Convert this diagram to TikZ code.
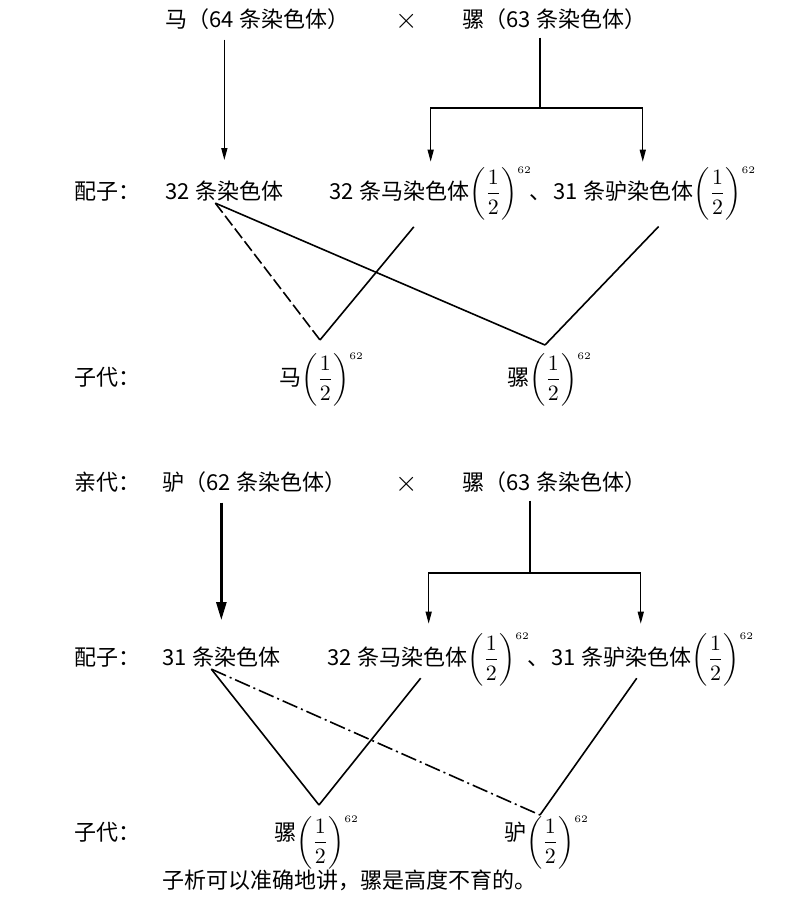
\documentclass[tikz,border=0pt]{standalone}
\usepackage{fontspec}
\usepackage{amsmath}
\setmainfont{Noto Sans CJK SC}
\usetikzlibrary{arrows.meta}

\newcommand{\half}{\left(\dfrac{1}{2}\right)^{\scriptscriptstyle 62}}
\newcommand{\nsp}{\hspace{0.25em}}

\begin{document}
\begin{tikzpicture}[x=0.5pt,y=-0.5pt,
    txt/.style={anchor=base west,inner sep=1pt,font=\fontsize{11}{13}\selectfont},
    cross/.style={anchor=base west,inner sep=1pt,font=\fontsize{15}{15}\selectfont},
    arr/.style={-{Triangle[length=6pt,width=3pt]},line width=0.7pt},
    ln/.style={line width=0.8pt}]

    \useasboundingbox (0,0) rectangle (800,900);

    % upper cross
    \node[txt] (p1) at (163,27) {马（64\nsp 条染色体）};
    \node[cross] (x1) at (393,28) {$\times$};
    \node[txt] (m1) at (460,27) {骡（63\nsp 条染色体）};

    \node[txt] (l1) at (72,199) {配子：};
    \node[txt] (g1) at (163,199) {32\nsp 条染色体};
    \node[txt] (gm1) at (327,199) {32\nsp 条马染色体$\half$};
    \node[txt] (gd1) at (527,199) {、\hspace{0.1em}31\nsp 条驴染色体$\half$};

    \node[txt] (l2) at (72,385) {子代：};
    \node[txt] (o1) at (277,385) {马$\half$};
    \node[txt] (o2) at (505,385) {骡$\half$};

    \coordinate (j1) at (540,108);
    \coordinate (v1) at (320,340);
    \coordinate (v2) at (545,345);

    \draw[arr,shorten <=4pt,shorten >=9pt] (p1.south -| g1.north) -- (g1.north);
    \draw[ln,shorten <=3pt] (j1 |- m1.south) -- (j1);
    \draw[arr,shorten >=1.5pt] (j1) -| (gm1.north);
    \draw[arr,shorten >=1.5pt] (j1) -| (gd1.north);

    \draw[ln,dash pattern=on 6pt off 2pt] ([xshift=-4.5pt]g1.south) -- (v1);
    \draw[ln,shorten <=3pt] ([xshift=-6.5pt]gm1.south) -- (v1);
    \draw[ln] ([xshift=-4.5pt]g1.south) -- (v2);
    \draw[ln,shorten <=3pt] ([xshift=10pt]gd1.south) -- (v2);

    % lower cross
    \node[txt] (l3) at (72,490) {亲代：};
    \node[txt] (p2) at (160,490) {驴（62\nsp 条染色体）};
    \node[cross] (x2) at (393,491) {$\times$};
    \node[txt] (m2) at (460,490) {骡（63\nsp 条染色体）};

    \node[txt] (l4) at (72,665) {配子：};
    \node[txt] (g2) at (160,665) {31\nsp 条染色体};
    \node[txt] (gm2) at (325,665) {32\nsp 条马染色体$\half$};
    \node[txt] (gd2) at (525,665) {、\hspace{0.1em}31\nsp 条驴染色体$\half$};

    \node[txt] (l5) at (72,840) {子代：};
    \node[txt] (o3) at (272,840) {骡\raisebox{-4pt}{$\half$}};
    \node[txt] (o4) at (502,840) {驴\raisebox{-4pt}{$\half$}};

    \node[txt] (t1) at (160,888) {子析可以准确地讲，骡是高度不育的。};

    \coordinate (j2) at (530,573);
    \coordinate (v3) at (319,805);
    \coordinate (v4) at (540,815);

    \draw[-{Triangle[length=9pt,width=5pt]},line width=1.3pt,shorten <=4pt,shorten >=12pt] (p2.south -| g2.north) -- (g2.north);
    \draw[ln,shorten <=3pt] (j2 |- m2.south) -- (j2);
    \draw[arr,shorten >=3.5pt] (j2) -| (gm2.north);
    \draw[arr,shorten >=3.5pt] (j2) -| (gd2.north);

    \draw[ln] ([xshift=-5pt]g2.south) -- (v3);
    \draw[ln] ([xshift=-4pt,yshift=5pt]gm2.south) -- (v3);
    \draw[ln,dash pattern=on 8pt off 2pt on 1pt off 2pt] ([xshift=-5pt]g2.south) -- (v4);
    \draw[ln] ([xshift=-2pt,yshift=5pt]gd2.south) -- (v4);
\end{tikzpicture}
\end{document}
